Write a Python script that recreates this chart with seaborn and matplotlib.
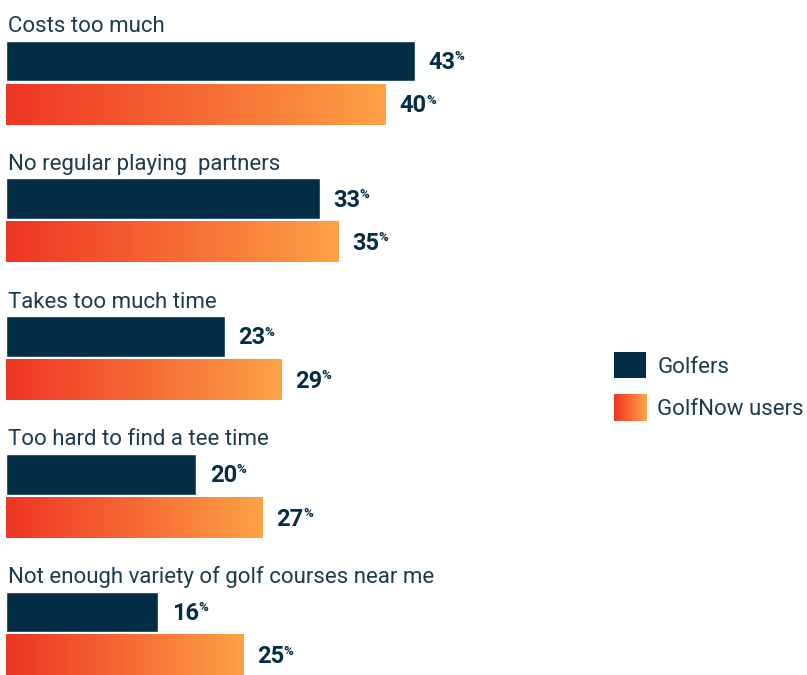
import numpy as np
import pandas as pd
import matplotlib
matplotlib.use("Agg")
from matplotlib import pyplot as plt
from matplotlib.colors import LinearSegmentedColormap
from matplotlib.patches import Patch, Rectangle
from matplotlib.legend_handler import HandlerBase
import seaborn as sns

# data
reasons = ["Costs too much", "No regular playing  partners", "Takes too much time",
           "Too hard to find a tee time", "Not enough variety of golf courses near me"]
golfers = [43, 33, 23, 20, 16]
golfnow = [40, 35, 29, 27, 25]
series = ["Golfers", "GolfNow users"]

dark = "#032E46"
label_col = "#1E3B4E"
grad = LinearSegmentedColormap.from_list("gn", ["#EE3524", "#F66A34", "#FDA246"])

df = pd.DataFrame({
    "reason": reasons * 2,
    "pct": golfers + golfnow,
    "who": [series[0]] * len(reasons) + [series[1]] * len(reasons),
})

sns.set_style("white")
plt.rcParams["font.family"] = ["Roboto", "DejaVu Sans"]

fig = plt.figure(figsize=(8.07, 6.75), dpi=100)
ax = fig.add_axes([0, 0, 1, 1])

sns.barplot(data=df, y="reason", x="pct", hue="who", hue_order=series, order=reasons,
            palette={series[0]: dark, series[1]: "#F66A34"}, orient="h",
            width=0.63, gap=0.06, legend=False, ax=ax, saturation=1)

# gradient fill on the GolfNow bars
for p in ax.containers[1]:
    x0, y0, w, h = p.get_x(), p.get_y(), p.get_width(), p.get_height()
    ax.imshow(np.linspace(0, 1, 256)[None, :], cmap=grad, aspect="auto",
              extent=(x0, x0 + w, y0 + h, y0), zorder=p.get_zorder() + 0.1)
    p.set_alpha(0)

# value labels with a small raised %
for cont in ax.containers:
    for p in cont:
        v = p.get_width()
        yc = p.get_y() + p.get_height() / 2
        t = ax.annotate(f"{v:.0f}", xy=(v, yc), xytext=(10, -1), textcoords="offset points",
                        ha="left", va="center", fontsize=17, fontweight="bold", color=dark)
        ax.annotate("%", xy=(1, 1), xycoords=t, xytext=(-0.5, 0.5), textcoords="offset points",
                    ha="left", va="top", fontsize=9.5, fontweight="bold", color=dark)

# category labels above each pair
for p, name in zip(ax.containers[0], reasons):
    ax.annotate(name, xy=(0, p.get_y()), xytext=(1.5, 6), textcoords="offset points",
                ha="left", va="baseline", fontsize=16, color=label_col)


class GradientHandler(HandlerBase):
    def create_artists(self, legend, orig_handle, xdescent, ydescent, width, height,
                       fontsize, trans):
        n = 40
        arts = []
        for i in range(n):
            r = Rectangle((-xdescent + width * i / n, -ydescent), width / n + 0.3, height,
                          facecolor=grad(i / (n - 1)), edgecolor="none", transform=trans)
            arts.append(r)
        return arts


h1 = Patch(facecolor=dark, edgecolor="none")
h2 = Patch(facecolor="#F66A34", edgecolor="none")
leg = fig.legend([h1, h2], series, handler_map={h2: GradientHandler()},
                 loc="upper left", bbox_to_anchor=(614 / 807, 1 - 352 / 675),
                 frameon=False, prop={"size": 16},
                 handlelength=1.45, handleheight=1.45,
                 handletextpad=0.5, labelspacing=0.72, borderpad=0, borderaxespad=0)
for txt in leg.get_texts():
    txt.set_color(label_col)

ax.set_xlim(-6 / 9.5, (807 - 6) / 9.5)
ax.set_ylim(4.30, -0.60)
ax.axis("off")

fig.savefig("out.png", dpi=100)
